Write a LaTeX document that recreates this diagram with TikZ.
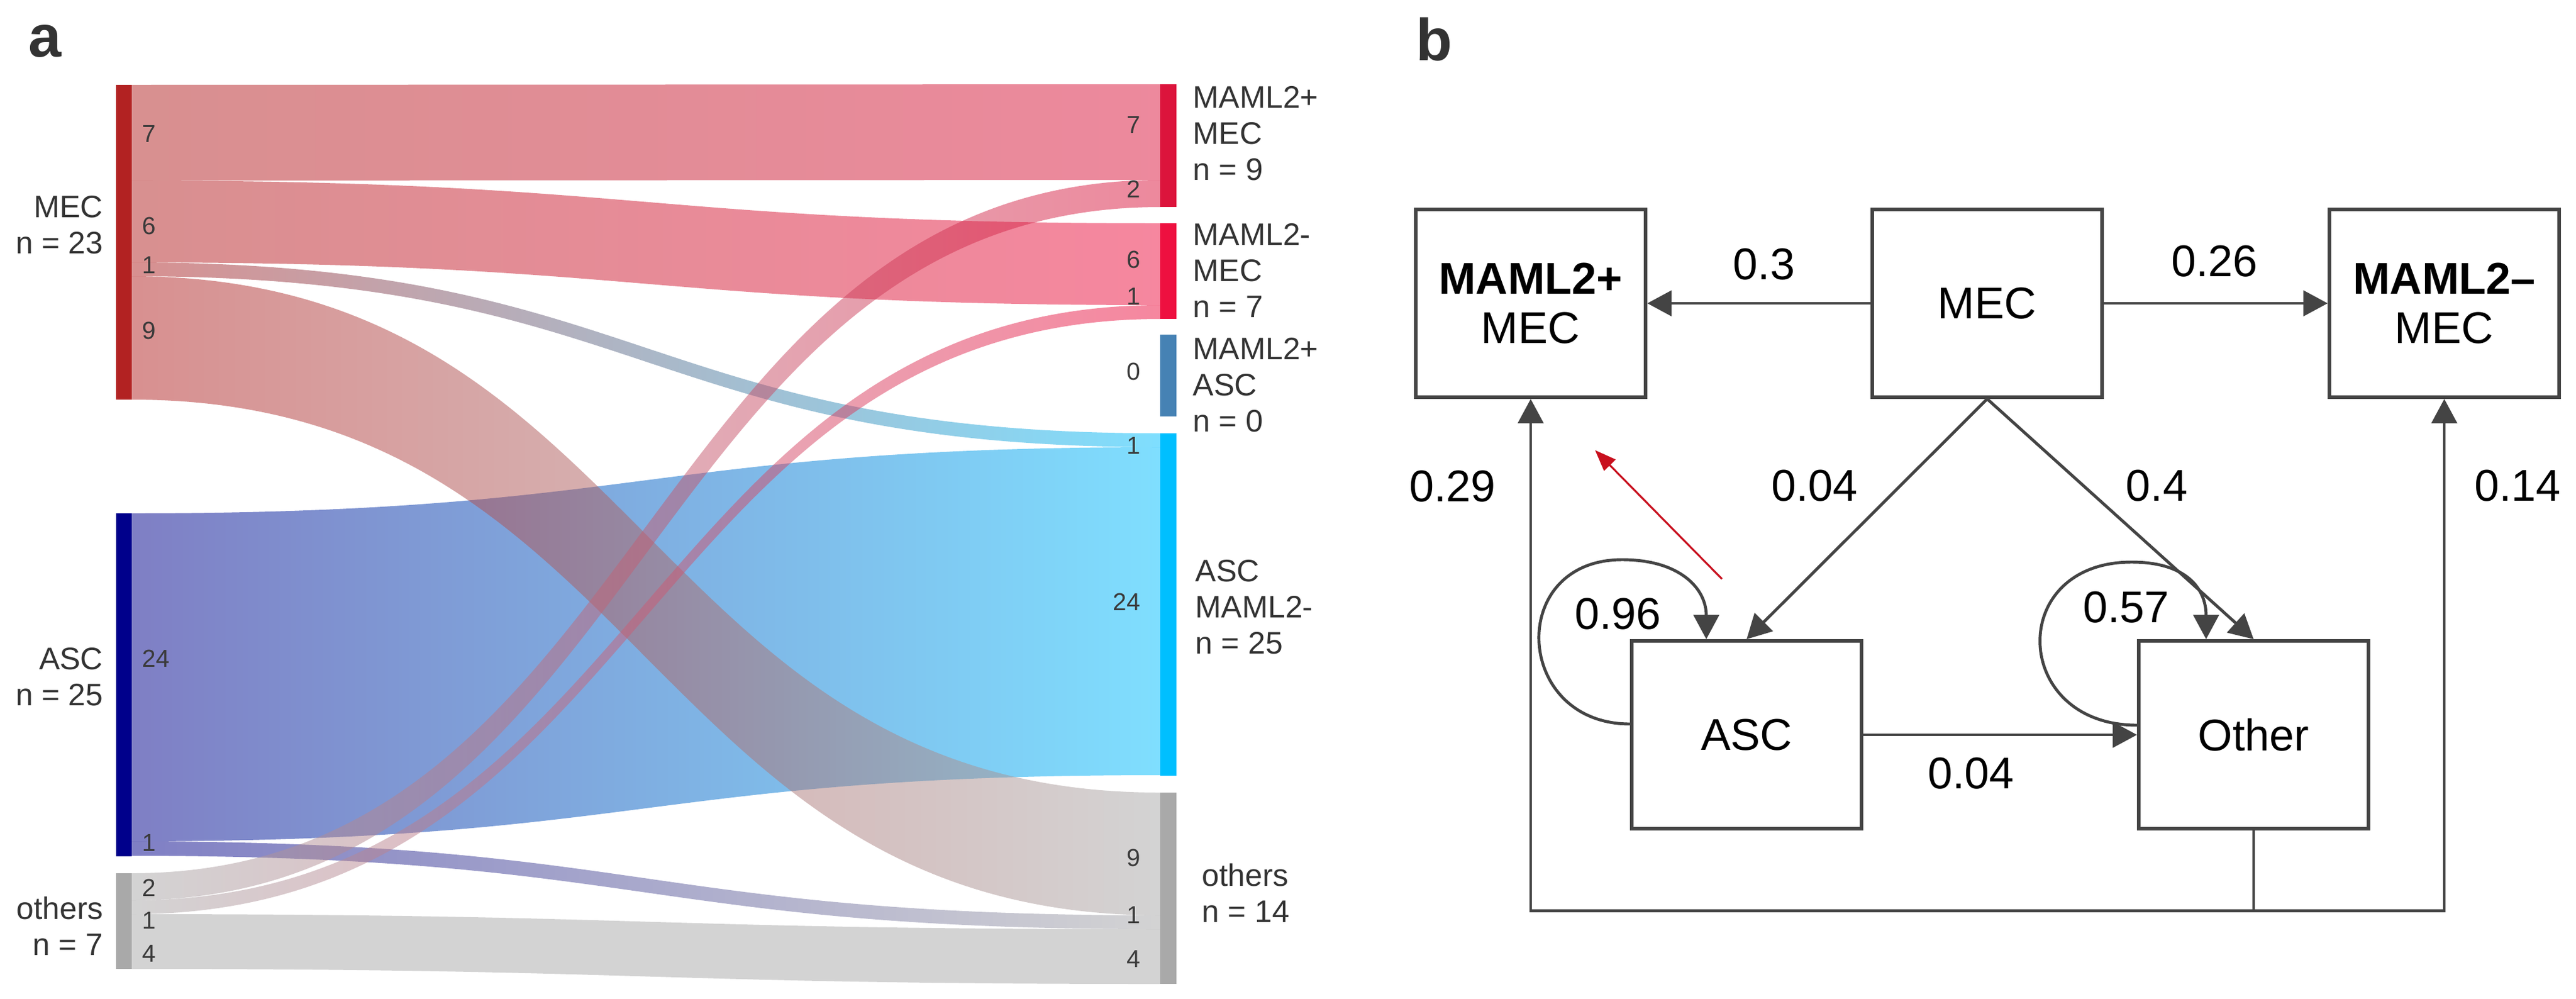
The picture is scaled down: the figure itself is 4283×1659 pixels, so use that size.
\documentclass[tikz,border=0pt]{standalone}
\usepackage{fontspec}
\setmainfont{Liberation Sans}
\usetikzlibrary{arrows.meta,calc}
\definecolor{cMEC}{HTML}{B22222}
\definecolor{cASC}{HTML}{00008B}
\definecolor{cOTH}{HTML}{A9A9A9}
\definecolor{cMPM}{HTML}{DC143C}
\definecolor{cMMM}{HTML}{EE1040}
\definecolor{cMPA}{HTML}{4682B4}
\definecolor{cAMM}{HTML}{00BFFF}
\definecolor{labgrey}{HTML}{333333}
\definecolor{numgrey}{HTML}{3A3A3A}
\definecolor{linec}{HTML}{444444}
\definecolor{redarr}{HTML}{C8101E}
\newcommand{\labfont}{\fontsize{14.7pt}{17.07pt}\selectfont}
\newcommand{\numfont}{\fontsize{11.6pt}{13pt}\selectfont}
\newcommand{\boxfont}{\fontsize{21pt}{23.3pt}\selectfont}
\newcommand{\panelfont}{\fontsize{28pt}{30pt}\selectfont\bfseries}
\newcommand{\sankeyflow}[6]{%
  \shade[left color=#5,right color=#6,fill opacity=0.5]
    (219,#1) .. controls (1074,#1) and (1074,#3) .. (1929,#3)
    -- (1929,#4) .. controls (1074,#4) and (1074,#2) .. (219,#2) -- cycle;}
\tikzset{
  lab/.style={font=\labfont, text=labgrey, inner sep=0pt},
  num/.style={font=\numfont, text=numgrey, inner sep=0pt},
  box/.style={draw=linec, line width=1.6pt, minimum width=3.82cm, minimum height=3.12cm,
              inner sep=0pt, align=center, font=\boxfont},
  conn/.style={draw=linec, line width=1.4pt, -{Triangle[length=11.5pt,width=12pt]}},
  prob/.style={font=\boxfont, inner sep=0pt},
  panel/.style={font=\panelfont, text=labgrey, inner sep=0pt, anchor=base west}
}
\begin{document}
\begin{tikzpicture}[x=0.01cm, y=-0.01cm]
\useasboundingbox (0,0) rectangle (4283,1659);
\fill[white] (0,0) rectangle (4283,1659);

% ---------- panel a : Sankey ----------
\node[panel] (pa) at (47,94) {a};

% flows
\sankeyflow{853}{1398}{743}{1288}{cASC}{cAMM}
\sankeyflow{1398}{1422}{1521}{1544}{cASC}{cOTH}
\sankeyflow{141}{300}{140}{299}{cMEC}{cMPM}
\sankeyflow{300}{436}{371}{507}{cMEC}{cMMM}
\sankeyflow{436}{459}{720}{743}{cMEC}{cAMM}
\sankeyflow{459}{664}{1317}{1521}{cMEC}{cOTH}
\sankeyflow{1451}{1496}{299}{344}{cOTH}{cMPM}
\sankeyflow{1496}{1519}{507}{530}{cOTH}{cMMM}
\sankeyflow{1519}{1610}{1544}{1635}{cOTH}{cOTH}

% bars
\fill[cMEC] (193,141) rectangle (219,664);
\fill[cASC] (193,853) rectangle (219,1423);
\fill[cOTH] (193,1451) rectangle (219,1610);
\fill[cMPM] (1929,140) rectangle (1956,344);
\fill[cMMM] (1929,371) rectangle (1956,530);
\fill[cMPA] (1929,556) rectangle (1956,692);
\fill[cAMM] (1929,720) rectangle (1956,1289);
\fill[cOTH] (1929,1317) rectangle (1956,1635);

% node labels
\node[lab, anchor=east, align=right] (lMEC) at (172,374) {MEC\\n = 23};
\node[lab, anchor=east, align=right] (lASC) at (172,1125) {ASC\\n = 25};
\node[lab, anchor=east, align=right] (lOTH) at (172,1539) {others\\n = 7};
\node[lab, anchor=west, align=left] (rMPM) at (1983,222) {MAML2+\\MEC\\n = 9};
\node[lab, anchor=west, align=left] (rMMM) at (1983,449) {MAML2-\\MEC\\n = 7};
\node[lab, anchor=west, align=left] (rMPA) at (1983,640) {MAML2+\\ASC\\n = 0};
\node[lab, anchor=west, align=left] (rAMM) at (1987,1009) {ASC\\MAML2-\\n = 25};
\node[lab, anchor=west, align=left] (rOTH) at (1998,1484) {others\\n = 14};

% flow numbers (left)
\node[num, anchor=west] (n1) at (236,222) {7};
\node[num, anchor=west] (n2) at (236,375) {6};
\node[num, anchor=west] (n3) at (236,440) {1};
\node[num, anchor=west] (n4) at (236,549) {9};
\node[num, anchor=west] (n5) at (236,1094) {24};
\node[num, anchor=west] (n6) at (236,1400) {1};
\node[num, anchor=west] (n7) at (236,1475) {2};
\node[num, anchor=west] (n8) at (236,1529) {1};
\node[num, anchor=west] (n9) at (236,1584) {4};
% flow numbers (right)
\node[num, anchor=east] (m1) at (1897,207) {7};
\node[num, anchor=east] (m2) at (1897,314) {2};
\node[num, anchor=east] (m3) at (1897,431) {6};
\node[num, anchor=east] (m4) at (1897,492) {1};
\node[num, anchor=east] (m5) at (1897,617) {0};
\node[num, anchor=east] (m6) at (1897,740) {1};
\node[num, anchor=east] (m7) at (1897,1000) {24};
\node[num, anchor=east] (m8) at (1897,1425) {9};
\node[num, anchor=east] (m9) at (1897,1520) {1};
\node[num, anchor=east] (m10) at (1897,1593) {4};

% ---------- panel b : transition diagram ----------
\node[panel] (pb) at (2354,100) {b};

\node[box] (M2p) at (2545,504) {\textbf{MAML2+}\\MEC};
\node[box] (MEC) at (3304,504) {MEC};
\node[box] (M2m) at (4064,504) {\textbf{MAML2–}\\MEC};
\node[box] (ASC) at (2904,1221) {ASC};
\node[box] (Oth) at (3747,1221) {Other};

\draw[conn] (MEC.west) -- (M2p.east);
\draw[conn] (MEC.east) -- (M2m.west);
\draw[conn] (MEC.south) -- (ASC.north);
\draw[conn] (MEC.south) -- (Oth.north);
\draw[conn] (ASC.east) -- (Oth.west);
\draw[conn] (Oth.south) -- ++(0,134) -| (M2p.south);
\draw[conn] (Oth.south) -- ++(0,134) -| (M2m.south);

% self loops
\draw[conn] ([yshift=0.18cm]ASC.west) .. controls +(-193,0) and +(-193,0) .. ++(-13,-273)
  .. controls +(95,0) and +(0,-85) .. ([xshift=-0.67cm]ASC.north);
\draw[conn] ([yshift=0.16cm]Oth.west) .. controls +(-209,0) and +(-209,0) .. ++(-9,-271)
  .. controls +(90,0) and +(0,-85) .. ([xshift=-0.79cm]Oth.north);

% probabilities
\node[prob] (p1) at (2933,439) {0.3};
\node[prob] (p2) at (3682,434) {0.26};
\node[prob] (p3) at (3017,807) {0.04};
\node[prob] (p4) at (3586,807) {0.4};
\node[prob] (p5) at (2415,808) {0.29};
\node[prob] (p6) at (4186,807) {0.14};
\node[prob] (p7) at (2690,1020) {0.96};
\node[prob] (p8) at (3535,1009) {0.57};
\node[prob] (p9) at (3277,1285) {0.04};

% red arrow
\coordinate (redA) at (2863,962);
\coordinate (redB) at (2652,748);
\draw[redarr, line width=0.9pt, -{Triangle[length=10pt,width=7.5pt]}] (redA) -- (redB);
\end{tikzpicture}
\end{document}
